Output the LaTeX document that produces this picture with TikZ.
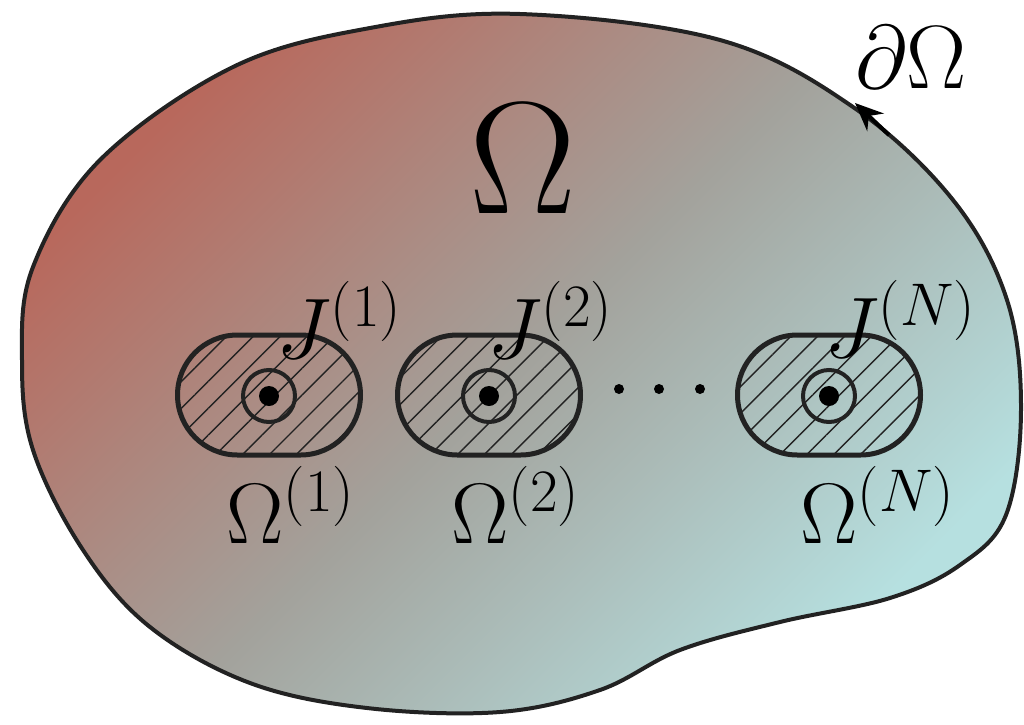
\RequirePackage{fix-cm}
\documentclass[tikz,border=0pt]{standalone}
\usetikzlibrary{arrows.meta,patterns.meta}
\definecolor{warm}{HTML}{B8685C}
\definecolor{mid} {HTML}{A3A29C}
\definecolor{cool}{HTML}{B6E0E0}
\definecolor{ink} {HTML}{222222}
\begin{document}
\begin{tikzpicture}[
  x=0.5pt, y=-0.5pt,
  sub/.style={draw=ink, line width=2.5pt, rounded corners=30pt,
              minimum width=91.5pt, minimum height=60pt, inner sep=0pt,
              pattern={Lines[angle=45, distance=9.5pt, line width=0.7pt]},
              pattern color=ink},
  core/.style={circle, draw=ink, line width=2pt, minimum size=26pt, inner sep=0pt},
  dot/.style={circle, fill=black, minimum size=10pt, inner sep=0pt},
  lbl/.style={anchor=base west, inner sep=0pt, font=\fontsize{43}{43}\selectfont}
]
\useasboundingbox (0,0) rectangle (1024,724);

% the domain
\shadedraw[top color=warm, bottom color=cool, middle color=mid, shading angle=45,
           draw=ink, line width=2pt]
  plot[smooth cycle, tension=0.6] coordinates {
    (520,14) (720,40) (853,107) (953,200) (1007,300) (1021,410) (1006,515)
    (960,565) (890,598) (780,622) (680,650) (600,690) (500,712) (367,708)
    (250,683) (150,627) (83,550) (33,450) (22,360) (33,267) (100,160)
    (233,67) (370,28)};

\coordinate (tail) at (889,135);
\coordinate (tip)  at (855,103);
\draw[black, line width=2pt, -{Stealth[length=14pt, width=12pt]}] (tail) -- (tip);
\node[anchor=base, inner sep=0pt, font=\fontsize{45}{45}\selectfont] (bnd) at (911,88) {$\partial\Omega$};
\node[anchor=base, inner sep=0pt, font=\fontsize{80}{80}\selectfont] (dom) at (523,213) {$\Omega$};

% inclusions
\foreach \n/\cx in {1/269, 2/489, 3/829} {
  \node[sub]  (sub\n) at (\cx,395) {};
  \node[core] (core\n) at (\cx,396) {};
  \node[dot]  (src\n) at (core\n) {};
}
\node[lbl] (j1) at (276,358) {$J^{(1)}$};
\node[lbl] (j2) at (487,358) {$J^{(2)}$};
\node[lbl] (j3) at (824,357) {$J^{(N)}$};
\node[lbl] (o1) at (226,543) {$\Omega^{(1)}$};
\node[lbl] (o2) at (451,543) {$\Omega^{(2)}$};
\node[lbl] (o3) at (800,543) {$\Omega^{(N)}$};

\foreach \x in {619,659,700}
  \node[dot, minimum size=5pt] at (\x,389) {};
\end{tikzpicture}
\end{document}
